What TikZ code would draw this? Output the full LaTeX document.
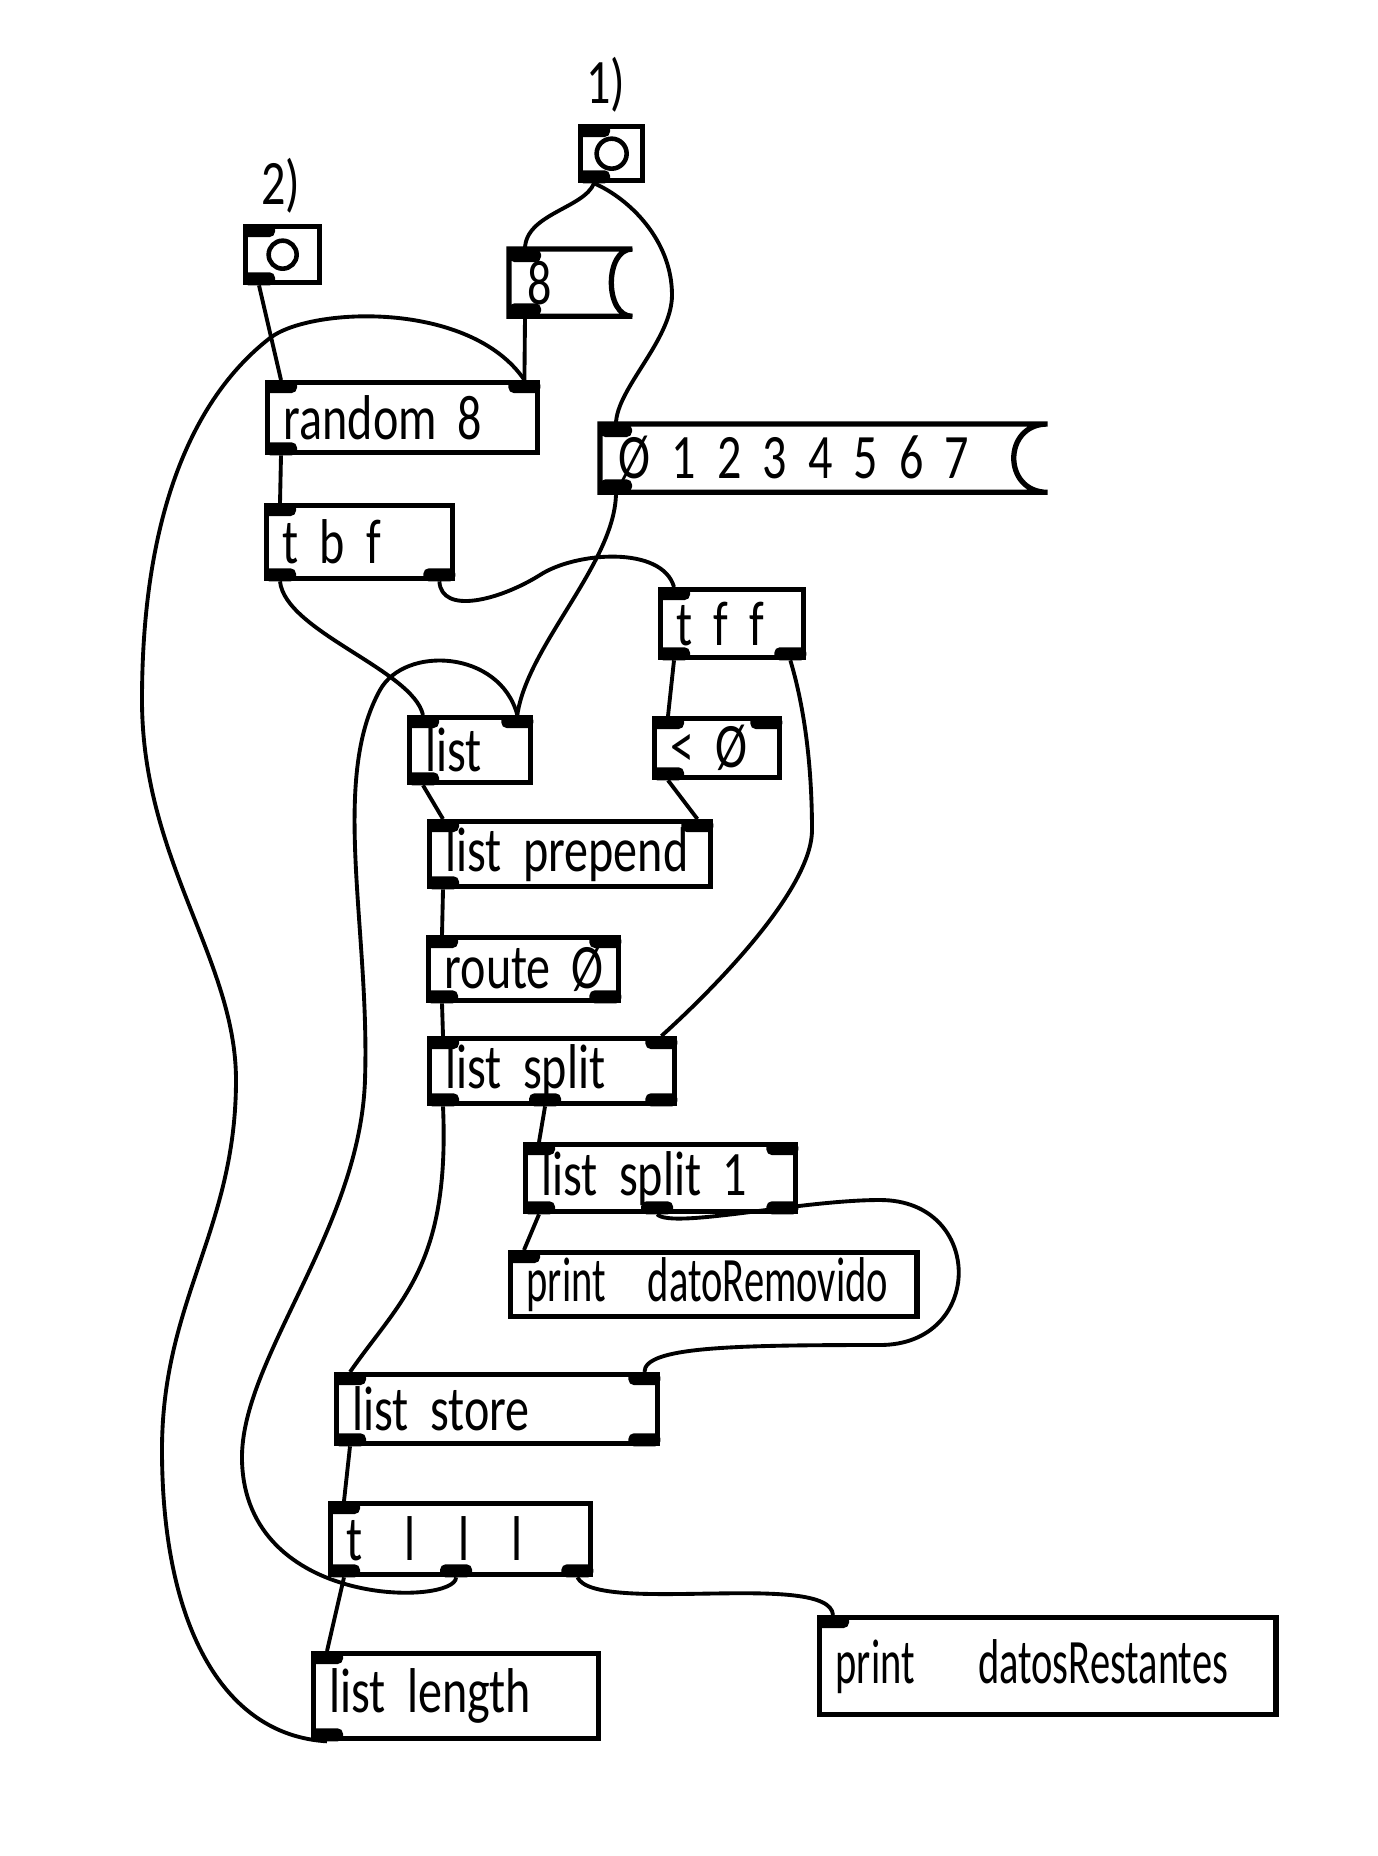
\documentclass[tikz,border=0pt]{standalone}
\usepackage{fontspec}
\setmainfont{Carlito}[FakeStretch=0.76]
\newfontfamily\narrowhand{Carlito}[FakeStretch=0.64]
\newcommand{\pdfont}{\fontsize{18}{20}\selectfont\spaceskip=8pt plus 2pt\relax}

\begin{document}
\begin{tikzpicture}[x=0.01cm,y=-0.01cm,
    obj/.style={draw,line width=1.5pt,anchor=north west,inner xsep=0.16cm,inner ysep=0pt,align=left,font=\pdfont},
    msg/.style={obj,draw=none},
    wire/.style={line width=1.1pt},
    port/.style={fill,rounded corners=1.5pt}]

  \useasboundingbox (0,0) rectangle (1378,1856);

  % bangs, messages
  \node[font=\pdfont] (one) at (606,85) {1)};
  \node[font=\pdfont] (two) at (281,186) {2)};
  \node[obj,text width=0.30cm,minimum height=0.54cm] (bang1) at (578,124) {};
  \node[obj,text width=0.42cm,minimum height=0.56cm] (bang2) at (243,224) {};
  \draw[line width=1.3pt] (bang1.center) circle [radius=0.15cm];
  \draw[line width=1.3pt] (bang2.center) circle [radius=0.14cm];
  \node[msg,text width=0.86cm,minimum height=0.62cm] (msg8) at (509,249) {8};
  \node[msg,text width=4.10cm,minimum height=0.63cm] (msglist) at (600,424) {Ø~1~2~3~4~5~6~7};
  \foreach \m/\d in {msg8/0.28cm,msglist/0.45cm}
    \draw[line width=1.5pt] (\m.north west) -- (\m.north east)
      .. controls ([xshift=-\d]\m.north east) and ([xshift=-\d]\m.south east) .. (\m.south east)
      -- (\m.south west) -- cycle;

  % objects
  \node[obj,text width=2.38cm,minimum height=0.70cm] (random) at (265,380) {random~8};
  \node[obj,text width=1.54cm,minimum height=0.73cm] (tbf) at (264,503) {t~b~f};
  \node[obj,text width=1.11cm,minimum height=0.68cm] (tff) at (658,587) {t~f~f};
  \node[obj,text width=0.89cm,minimum height=0.65cm] (list) at (407,715) {list};
  \node[obj,text width=0.93cm,minimum height=0.59cm] (lt0) at (652,716) {<~Ø};
  \node[obj,text width=2.49cm,minimum height=0.65cm] (prepend) at (427,819) {list~prepend};
  \node[obj,text width=1.58cm,minimum height=0.63cm] (route) at (426,935) {route~Ø};
  \node[obj,text width=2.13cm,minimum height=0.65cm] (split) at (427,1036) {list~split};
  \node[obj,text width=2.38cm,minimum height=0.67cm] (split1) at (523,1142) {list~split~1};
  \node[obj,font={\narrowhand\pdfont},text width=3.74cm,minimum height=0.64cm] (printR) at (508,1250) {print~~datoRemovido};
  \node[obj,text width=2.89cm,minimum height=0.69cm] (store) at (334,1372) {list~store};
  \node[obj,text width=2.28cm,minimum height=0.71cm] (tlll) at (328,1501) {t~~l~~l~~l};
  \node[obj,text width=2.53cm,minimum height=0.85cm] (length) at (311,1651) {list~length};
  \node[obj,font={\narrowhand\pdfont},text width=4.24cm,minimum height=0.97cm] (printS) at (817,1615) {print~~~datosRestantes};

  % inlets and outlets
  \foreach \n in {bang1,bang2,msg8,random,msglist,tbf,tff,list,lt0,prepend,route,split,split1,printR,store,tlll,length,printS}
    \fill[port] (\n.north west) rectangle ++(32,13);
  \foreach \n in {bang1,bang2,msg8,random,msglist,tbf,tff,list,lt0,prepend,route,split,split1,store,tlll,length}
    \fill[port] (\n.south west) rectangle ++(32,-13);
  \foreach \n in {random,list,lt0,prepend,route,split,split1,store}
    \fill[port] (\n.north east) rectangle ++(-32,13);
  \foreach \n in {tbf,tff,route,split,split1,store,tlll}
    \fill[port] (\n.south east) rectangle ++(-32,-13);
  \foreach \n/\x in {split/1.02cm,split1/1.18cm,tlll/1.12cm}
    \fill[port] ([xshift=\x]\n.south west) rectangle ++(32,-13);

  % wires
  \draw[wire] ([xshift=0.16cm]bang1.south west) .. controls +(-10,25) and +(0,-35) .. ([xshift=0.16cm]msg8.north west);
  \draw[wire] ([xshift=0.16cm]bang1.south west) .. controls +(35,15) and +(0,-55) .. (672,295)
    .. controls +(0,45) and +(0,-35) .. ([xshift=0.16cm]msglist.north west);
  \draw[wire] ([xshift=0.16cm]bang2.south west) -- ([xshift=0.16cm]random.north west);
  \draw[wire] ([xshift=0.16cm]msg8.south west) -- ([xshift=-0.16cm]random.north east);
  \draw[wire] ([xshift=0.16cm]random.south west) -- ([xshift=0.16cm]tbf.north west);
  \draw[wire] ([xshift=0.16cm]tbf.south west) .. controls +(5,50) and +(-10,-45) .. ([xshift=0.16cm]list.north west);
  \draw[wire] ([xshift=-0.16cm]tbf.south east) .. controls +(2,34) and +(-40,25) .. (540,575)
    .. controls +(35,-23) and +(-12,-42) .. ([xshift=0.16cm]tff.north west);
  \draw[wire] ([xshift=0.16cm]msglist.south west) .. controls +(0,70) and +(10,-70) .. ([xshift=-0.16cm]list.north east);
  \draw[wire] ([xshift=0.16cm]tff.south west) -- ([xshift=0.16cm]lt0.north west);
  \draw[wire] ([xshift=-0.16cm]tff.south east) .. controls +(15,50) and +(0,-60) .. (812,830)
    .. controls +(0,60) and +(50,-45) .. ([xshift=-0.16cm]split.north east);
  \draw[wire] ([xshift=0.16cm]list.south west) -- ([xshift=0.16cm]prepend.north west);
  \draw[wire] ([xshift=0.16cm]lt0.south west) -- ([xshift=-0.16cm]prepend.north east);
  \draw[wire] ([xshift=0.16cm]prepend.south west) -- ([xshift=0.16cm]route.north west);
  \draw[wire] ([xshift=0.16cm]route.south west) -- ([xshift=0.16cm]split.north west);
  \draw[wire] ([xshift=0.16cm]split.south west) .. controls +(7,160) and +(50,-72) .. ([xshift=0.16cm]store.north west);
  \draw[wire] ([xshift=1.18cm]split.south west) -- ([xshift=0.16cm]split1.north west);
  \draw[wire] ([xshift=0.16cm]split1.south west) -- ([xshift=0.16cm]printR.north west);
  \draw[wire] ([xshift=1.34cm]split1.south west) .. controls +(15,15) and (800,1200) .. (880,1200)
    .. controls (985,1200) and (985,1345) .. (880,1345)
    .. controls +(-150,0) and +(0,-25) .. ([xshift=-0.16cm]store.north east);
  \draw[wire] ([xshift=0.16cm]store.south west) -- ([xshift=0.16cm]tlll.north west);
  \draw[wire] ([xshift=0.16cm]tlll.south west) -- ([xshift=0.16cm]length.north west);
  \draw[wire] ([xshift=1.28cm]tlll.south west) .. controls +(0,28) and (245,1610) .. (242,1460)
    .. controls (240,1360) and (360,1230) .. (365,1080)
    .. controls (370,930) and (330,780) .. (380,690)
    .. controls (405,645) and (500,650) .. ([xshift=-0.16cm]list.north east);
  \draw[wire] ([xshift=-0.16cm]tlll.south east) .. controls +(18,38) and +(-3,-45) .. ([xshift=0.16cm]printS.north west);
  \draw[wire] ([xshift=0.16cm]length.south west) .. controls (220,1735) and (162,1620) .. (162,1450)
    .. controls (162,1300) and (236,1230) .. (236,1080)
    .. controls (236,960) and (142,860) .. (142,700)
    .. controls (142,520) and (190,400) .. (270,338)
    .. controls (310,307) and (470,300) .. ([xshift=-0.16cm]random.north east);
\end{tikzpicture}
\end{document}
